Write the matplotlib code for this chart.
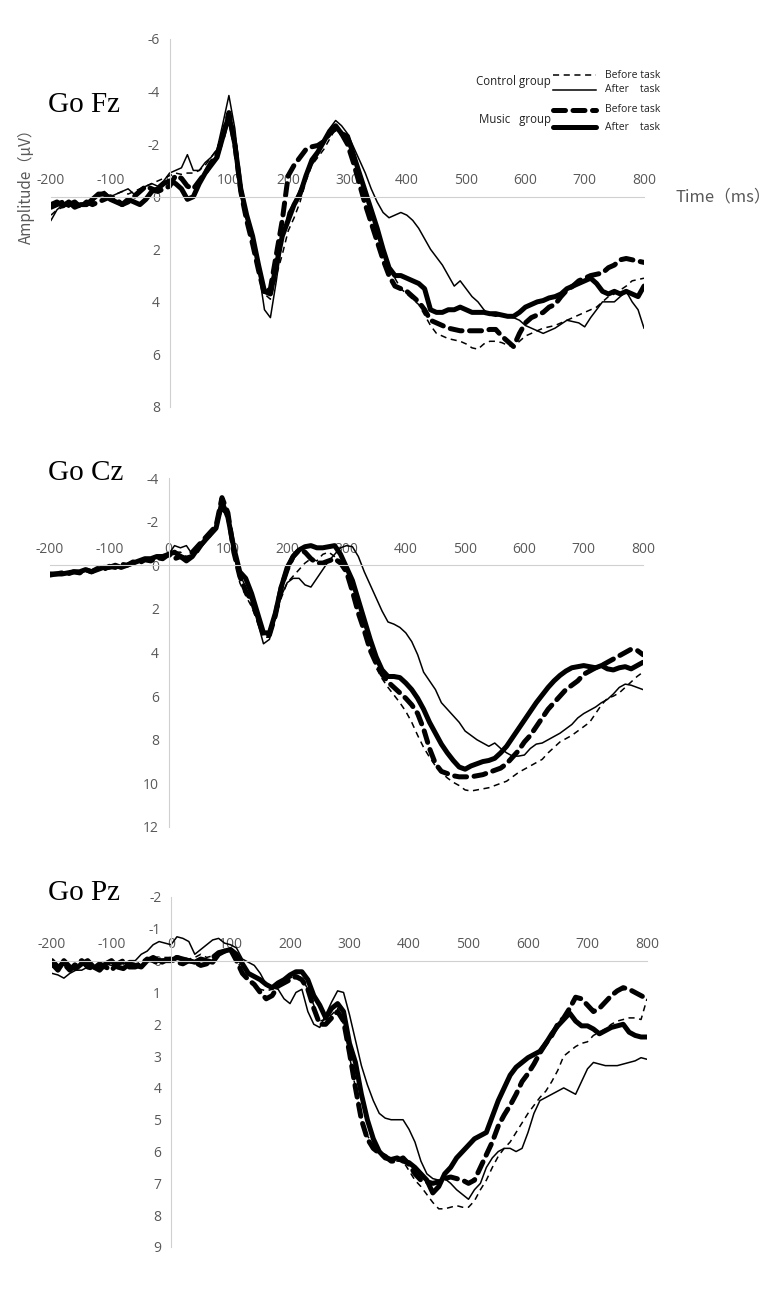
import numpy as np
import matplotlib
matplotlib.use("Agg")
import matplotlib.pyplot as plt
from matplotlib.lines import Line2D

W, H = 780, 1299

# time axis (ms)
time_ms = np.arange(-200, 801, 10)
x_ticks = [-200, -100, 0, 100, 200, 300, 400, 500, 600, 700, 800]

# ---- Go Fz ----
fz_ctrl_before = [0.7, 0.5, 0.4, 0.3, 0.4, 0.3, 0.2, 0.2, 0.0, -0.1,
                  0.0, -0.1, -0.2, -0.1, -0.2, -0.3, -0.4, -0.5, -0.6, -0.7,
                  -0.8, -0.9, -0.85, -0.9, -0.9, -1.0, -1.2, -1.5, -1.8, -2.5,
                  -3.2, -2.1, -0.3, 0.9, 1.6, 2.6, 3.7, 3.9, 3.0, 2.2,
                  1.3, 0.8, 0.2, -0.6, -1.2, -1.5, -1.8, -2.2, -2.6, -2.5,
                  -2.1, -1.5, -0.9, -0.2, 0.6, 1.3, 2.0, 2.6, 3.1, 3.5,
                  3.7, 3.9, 4.1, 4.5, 4.9, 5.2, 5.3, 5.4, 5.45, 5.5,
                  5.6, 5.75, 5.8, 5.6, 5.5, 5.5, 5.55, 5.65, 5.7, 5.5,
                  5.3, 5.2, 5.1, 5.0, 4.95, 4.9, 4.8, 4.7, 4.6, 4.5,
                  4.4, 4.3, 4.2, 4.0, 3.8, 3.7, 3.55, 3.4, 3.2, 3.15,
                  3.1]
fz_ctrl_after = [0.9, 0.5, 0.3, 0.4, 0.2, 0.3, 0.2, 0.1, -0.1, -0.2,
                 0.0, -0.1, -0.2, -0.3, -0.1, -0.3, -0.4, -0.5, -0.4, -0.6,
                 -0.9, -1.0, -1.1, -1.6, -1.0, -1.0, -1.3, -1.5, -1.8, -2.8,
                 -3.85, -2.6, -0.5, 0.6, 1.6, 2.8, 4.3, 4.6, 3.2, 1.6,
                 0.6, 0.2, -0.3, -0.8, -1.2, -1.6, -2.1, -2.6, -2.9, -2.7,
                 -2.4, -1.9, -1.4, -0.9, -0.3, 0.2, 0.6, 0.8, 0.7, 0.6,
                 0.7, 0.9, 1.2, 1.6, 2.0, 2.3, 2.6, 3.0, 3.4, 3.2,
                 3.5, 3.8, 4.0, 4.3, 4.5, 4.55, 4.5, 4.55, 4.6, 4.7,
                 4.9, 5.0, 5.1, 5.2, 5.1, 5.0, 4.85, 4.7, 4.75, 4.8,
                 4.95, 4.6, 4.3, 4.0, 4.0, 4.0, 3.8, 3.6, 4.0, 4.3,
                 5.0]
fz_music_before = [0.4, 0.3, 0.2, 0.3, 0.2, 0.4, 0.2, 0.3, 0.2, 0.1,
                   0.0, 0.1, 0.3, 0.2, 0.0, -0.2, -0.4, -0.3, -0.2, -0.3,
                   -0.4, -0.8, -0.7, -0.4, -0.3, -0.6, -0.9, -1.3, -1.6, -2.3,
                   -3.2, -2.0, -0.2, 0.9, 1.8, 2.8, 3.7, 3.5, 2.2, 0.9,
                   -0.8, -1.2, -1.5, -1.8, -1.9, -1.95, -2.1, -2.4, -2.6, -2.4,
                   -2.0, -1.3, -0.5, 0.3, 1.0, 1.7, 2.4, 3.0, 3.4, 3.5,
                   3.6, 3.8, 4.0, 4.3, 4.7, 4.8, 4.9, 5.0, 5.05, 5.1,
                   5.1, 5.1, 5.1, 5.1, 5.05, 5.05, 5.3, 5.5, 5.7, 5.2,
                   4.8, 4.6, 4.5, 4.4, 4.2, 4.1, 3.8, 3.55, 3.4, 3.2,
                   3.1, 3.0, 2.95, 2.9, 2.7, 2.6, 2.4, 2.35, 2.4, 2.45,
                   2.5]
fz_music_after = [0.3, 0.2, 0.35, 0.2, 0.4, 0.3, 0.3, 0.1, -0.1, -0.1,
                  0.1, 0.2, 0.3, 0.1, 0.2, 0.3, 0.1, -0.2, -0.3, -0.5,
                  -0.6, -0.5, -0.3, 0.1, 0.0, -0.5, -0.9, -1.2, -1.5, -2.3,
                  -3.1, -2.0, -0.3, 0.7, 1.5, 2.6, 3.6, 3.7, 2.6, 1.5,
                  0.9, 0.3, -0.1, -0.8, -1.4, -1.7, -2.1, -2.5, -2.7, -2.4,
                  -2.3, -1.6, -0.9, -0.2, 0.5, 1.2, 2.0, 2.7, 3.0, 3.0,
                  3.1, 3.2, 3.3, 3.5, 4.3, 4.4, 4.4, 4.3, 4.3, 4.2,
                  4.3, 4.4, 4.4, 4.4, 4.45, 4.45, 4.5, 4.55, 4.55, 4.4,
                  4.2, 4.1, 4.0, 3.95, 3.85, 3.8, 3.7, 3.5, 3.4, 3.3,
                  3.2, 3.1, 3.3, 3.6, 3.7, 3.6, 3.7, 3.6, 3.7, 3.8,
                  3.4]

# ---- Go Cz ----
cz_ctrl_before = [0.4, 0.4, 0.35, 0.35, 0.3, 0.3, 0.25, 0.2, 0.2, 0.15,
                  0.1, 0.05, 0.0, 0.0, -0.1, -0.15, -0.2, -0.3, -0.35, -0.4,
                  -0.5, -0.6, -0.6, -0.4, -0.5, -0.7, -1.0, -1.3, -1.7, -2.6,
                  -2.2, -0.6, 0.8, 1.4, 1.9, 2.6, 3.3, 3.3, 2.4, 1.5,
                  0.8, 0.5, 0.2, -0.1, -0.3, -0.2, -0.5, -0.6, -0.4, -0.2,
                  0.0, 0.6, 1.6, 2.6, 3.7, 4.7, 5.2, 5.6, 5.95, 6.3,
                  6.7, 7.2, 7.8, 8.35, 8.8, 9.2, 9.5, 9.75, 9.95, 10.1,
                  10.3, 10.35, 10.3, 10.25, 10.2, 10.1, 10.0, 9.9, 9.7, 9.5,
                  9.35, 9.2, 9.05, 8.9, 8.6, 8.35, 8.1, 7.95, 7.8, 7.6,
                  7.4, 7.2, 6.8, 6.4, 6.1, 6.0, 5.85, 5.6, 5.35, 5.1,
                  4.9]
cz_ctrl_after = [0.4, 0.35, 0.4, 0.3, 0.3, 0.25, 0.2, 0.25, 0.15, 0.1,
                 0.1, 0.0, 0.05, -0.05, -0.1, -0.2, -0.25, -0.3, -0.4, -0.45,
                 -0.5, -0.9, -0.8, -0.9, -0.5, -0.6, -1.0, -1.4, -1.8, -2.5,
                 -2.3, -0.8, 0.4, 1.0, 1.7, 2.6, 3.6, 3.4, 2.4, 1.4,
                 0.8, 0.6, 0.6, 0.9, 1.0, 0.6, 0.2, -0.2, -0.5, -0.8,
                 -0.9, -0.85, -0.4, 0.3, 0.9, 1.5, 2.1, 2.6, 2.7, 2.85,
                 3.1, 3.5, 4.1, 4.9, 5.3, 5.7, 6.3, 6.6, 6.9, 7.2,
                 7.6, 7.8, 8.0, 8.15, 8.3, 8.15, 8.4, 8.6, 8.75, 8.75,
                 8.7, 8.4, 8.2, 8.15, 8.0, 7.85, 7.7, 7.5, 7.3, 7.0,
                 6.8, 6.65, 6.5, 6.3, 6.15, 5.9, 5.6, 5.45, 5.5, 5.6,
                 5.7]
cz_music_before = [0.45, 0.4, 0.35, 0.4, 0.3, 0.35, 0.2, 0.3, 0.15, 0.2,
                   0.05, 0.1, -0.05, 0.0, -0.15, -0.1, -0.25, -0.2, -0.35, -0.3,
                   -0.5, -0.3, -0.4, -0.3, -0.6, -0.9, -1.2, -1.5, -1.8, -3.1,
                   -2.4, -0.6, 0.5, 1.2, 1.6, 2.4, 3.2, 3.2, 2.3, 1.0,
                   0.2, -0.4, -0.7, -0.6, -0.3, -0.1, -0.1, -0.2, -0.3, -0.1,
                   0.3, 1.2, 2.2, 3.0, 3.9, 4.5, 5.0, 5.35, 5.6, 5.85,
                   6.1, 6.4, 6.8, 7.5, 8.4, 9.1, 9.45, 9.55, 9.65, 9.7,
                   9.7, 9.7, 9.65, 9.6, 9.5, 9.4, 9.3, 9.1, 8.8, 8.5,
                   8.1, 7.8, 7.4, 7.0, 6.6, 6.3, 6.0, 5.7, 5.5, 5.3,
                   5.0, 4.85, 4.7, 4.6, 4.45, 4.3, 4.15, 4.0, 3.85, 3.9,
                   4.1]
cz_music_after = [0.4, 0.4, 0.4, 0.35, 0.3, 0.3, 0.2, 0.3, 0.2, 0.1,
                  0.1, 0.0, 0.1, 0.0, -0.1, -0.2, -0.3, -0.3, -0.4, -0.4,
                  -0.5, -0.6, -0.4, -0.2, -0.4, -0.8, -1.1, -1.4, -1.7, -2.9,
                  -2.2, -0.8, 0.3, 0.6, 1.3, 2.2, 3.1, 3.1, 2.2, 1.0,
                  0.1, -0.4, -0.7, -0.85, -0.9, -0.8, -0.8, -0.85, -0.9, -0.5,
                  0.1, 0.7, 1.6, 2.5, 3.4, 4.2, 4.8, 5.1, 5.1, 5.15,
                  5.4, 5.7, 6.1, 6.6, 7.2, 7.7, 8.2, 8.6, 8.95, 9.25,
                  9.35, 9.2, 9.1, 9.0, 8.95, 8.85, 8.6, 8.3, 7.9, 7.5,
                  7.1, 6.7, 6.3, 5.95, 5.6, 5.3, 5.05, 4.85, 4.7, 4.65,
                  4.6, 4.65, 4.7, 4.6, 4.75, 4.8, 4.7, 4.65, 4.75, 4.6,
                  4.45]

# ---- Go Pz ----
pz_ctrl_before = [0.2, 0.1, 0.15, 0.2, 0.1, 0.15, 0.1, 0.15, 0.2, 0.1,
                  0.1, 0.15, 0.1, 0.05, 0.1, 0.05, 0.0, 0.0, -0.05, -0.1,
                  -0.1, -0.15, -0.1, -0.05, -0.1, -0.2, -0.1, -0.15, -0.2, -0.3,
                  -0.3, -0.1, 0.4, 0.6, 0.8, 0.9, 0.95, 0.9, 0.8, 0.7,
                  0.55, 0.45, 0.55, 0.9, 1.4, 1.9, 1.85, 1.7, 1.5, 2.0,
                  3.0, 4.0, 4.9, 5.5, 5.8, 6.0, 6.15, 6.25, 6.3, 6.3,
                  6.6, 6.9, 7.1, 7.35, 7.6, 7.8, 7.8, 7.75, 7.7, 7.75,
                  7.75, 7.55, 7.2, 6.9, 6.5, 6.15, 5.9, 5.7, 5.4, 5.1,
                  4.8, 4.55, 4.3, 4.1, 3.8, 3.45, 3.0, 2.85, 2.7, 2.6,
                  2.55, 2.35, 2.25, 2.15, 2.0, 1.9, 1.85, 1.8, 1.8, 1.85,
                  1.2]
pz_ctrl_after = [0.4, 0.45, 0.55, 0.4, 0.3, 0.3, 0.2, 0.25, 0.2, 0.1,
                 0.15, 0.1, 0.1, 0.0, 0.0, -0.2, -0.3, -0.5, -0.6, -0.55,
                 -0.5, -0.75, -0.7, -0.6, -0.2, -0.35, -0.5, -0.65, -0.7, -0.55,
                 -0.5, -0.4, -0.05, 0.05, 0.15, 0.4, 0.75, 0.85, 0.9, 1.2,
                 1.35, 1.0, 0.9, 1.6, 2.0, 2.1, 1.7, 1.3, 0.95, 1.0,
                 1.7, 2.5, 3.3, 3.9, 4.4, 4.8, 4.95, 5.0, 5.0, 5.0,
                 5.3, 5.7, 6.3, 6.7, 6.85, 6.9, 6.85, 7.0, 7.2, 7.35,
                 7.5, 7.2, 7.0, 6.5, 6.2, 6.0, 5.9, 5.9, 6.0, 5.9,
                 5.4, 4.8, 4.4, 4.3, 4.2, 4.1, 4.0, 4.1, 4.2, 3.8,
                 3.4, 3.2, 3.25, 3.3, 3.3, 3.3, 3.25, 3.2, 3.15, 3.05,
                 3.1]
pz_music_before = [0.0, 0.2, 0.1, 0.3, 0.1, 0.0, 0.2, 0.25, 0.1, 0.2,
                   0.3, 0.1, 0.0, 0.2, 0.2, 0.1, -0.05, 0.0, 0.1, 0.0,
                   -0.05, 0.05, 0.1, 0.0, 0.05, 0.15, 0.1, -0.1, -0.25, -0.3,
                   -0.35, 0.0, 0.4, 0.6, 0.75, 1.0, 1.2, 1.1, 0.8, 0.7,
                   0.6, 0.5, 0.6, 0.9, 1.5, 2.0, 2.0, 1.8, 1.6, 1.9,
                   2.9, 4.0, 5.0, 5.6, 5.9, 6.05, 6.15, 6.3, 6.3, 6.2,
                   6.4, 6.7, 6.9, 6.95, 7.0, 6.95, 6.85, 6.8, 6.85, 6.9,
                   7.0, 6.9, 6.5, 6.1, 5.7, 5.2, 4.85, 4.55, 4.2, 3.8,
                   3.55, 3.25, 2.9, 2.6, 2.35, 2.0, 1.8, 1.5, 1.15, 1.2,
                   1.4, 1.6, 1.5, 1.3, 1.1, 0.95, 0.85, 0.9, 1.0, 1.1,
                   1.2]
pz_music_after = [0.1, 0.3, 0.0, 0.2, 0.25, 0.1, 0.0, 0.2, 0.3, 0.1,
                  0.0, 0.2, 0.25, 0.1, 0.15, 0.2, 0.0, -0.1, 0.0, 0.0,
                  0.0, -0.1, -0.05, 0.0, 0.05, -0.05, 0.0, 0.05, -0.2, -0.3,
                  -0.35, -0.2, 0.1, 0.4, 0.5, 0.6, 0.75, 0.85, 0.7, 0.6,
                  0.45, 0.35, 0.35, 0.6, 1.1, 1.4, 1.8, 1.5, 1.35, 1.6,
                  2.6, 3.2, 4.2, 5.0, 5.6, 6.0, 6.2, 6.25, 6.2, 6.3,
                  6.35, 6.5, 6.7, 6.9, 7.3, 7.1, 6.7, 6.5, 6.2, 6.0,
                  5.8, 5.6, 5.5, 5.4, 4.9, 4.4, 4.0, 3.6, 3.35, 3.2,
                  3.05, 2.95, 2.85, 2.6, 2.3, 2.05, 1.85, 1.65, 1.9, 2.05,
                  2.05, 2.15, 2.3, 2.2, 2.1, 2.05, 2.0, 2.25, 2.35, 2.4,
                  2.4]

fz_yticks = [-6, -4, -2, 0, 2, 4, 6, 8]
cz_yticks = [-4, -2, 0, 2, 4, 6, 8, 10, 12]
pz_yticks = [-2, -1, 0, 1, 2, 3, 4, 5, 6, 7, 8, 9]

series_names = ["Control before", "Control after", "Music before", "Music after"]

axis_gray = "#d0d0d0"
label_gray = "#595959"

styles = [
    dict(lw=1.1, ls=(0, (4, 3)), color="black"),
    dict(lw=1.1, ls="-", color="black"),
    dict(lw=3.6, ls=(0, (2.4, 1.5)), color="black", dash_capstyle="round"),
    dict(lw=3.6, ls="-", color="black", solid_capstyle="round"),
]


def fx(px):
    return px / W


def fy(py):
    return 1 - py / H


def setup(ax, yticks):
    ax.set_xlim(-200, 800)
    ax.set_ylim(yticks[-1], yticks[0])
    ax.spines["right"].set_visible(False)
    ax.spines["bottom"].set_visible(False)
    ax.spines["left"].set_position(("data", 0))
    ax.spines["top"].set_position(("data", 0))
    ax.spines["left"].set_color(axis_gray)
    ax.spines["top"].set_color(axis_gray)
    ax.xaxis.tick_top()
    ax.set_xticks(x_ticks)
    ax.set_xticklabels([str(v) for v in x_ticks])
    ax.set_yticks(yticks)
    ax.set_yticklabels([str(v) for v in yticks])
    ax.tick_params(length=0, colors=label_gray, labelsize=10)
    ax.tick_params(axis="x", pad=6)
    ax.tick_params(axis="y", pad=7)
    for lab in ax.get_xticklabels() + ax.get_yticklabels():
        lab.set_family("Open Sans")
    ax.patch.set_alpha(0)


fig = plt.figure(figsize=(W / 100, H / 100), dpi=100)

panels = [
    ("Go Fz", [fz_ctrl_before, fz_ctrl_after, fz_music_before, fz_music_after],
     fz_yticks, (51, 644, 39, 407), 112),
    ("Go Cz", [cz_ctrl_before, cz_ctrl_after, cz_music_before, cz_music_after],
     cz_yticks, (50, 643, 478, 827), 480),
    ("Go Pz", [pz_ctrl_before, pz_ctrl_after, pz_music_before, pz_music_after],
     pz_yticks, (52, 647, 897, 1247), 900),
]

for title, data, yticks, (x0, x1, y0, y1), title_y in panels:
    ax = fig.add_axes([fx(x0), fy(y1), (x1 - x0) / W, (y1 - y0) / H])
    setup(ax, yticks)
    for vals, st, name in zip(data, styles, series_names):
        assert len(vals) == len(time_ms), (title, name, len(vals))
        ax.plot(time_ms, vals, label=name, **st)
    fig.text(fx(48), fy(title_y), title, family="Liberation Serif",
             fontsize=21, va="baseline", ha="left")

# axis titles (first panel)
fig.text(fx(26), fy(182), "Amplitude（µV）", rotation=90, ha="center", va="center",
         fontsize=11, color=label_gray, family=["Noto Sans CJK SC", "DejaVu Sans"])
fig.text(fx(676), fy(197), "Time（ms）", ha="left", va="center",
         fontsize=12, color=label_gray, family=["Noto Sans CJK SC", "DejaVu Sans"])

# legend in the Fz panel
leg_rows = [(75, 0, "Before task"), (90, 1, "After    task"),
            (110, 2, "Before task"), (127, 3, "After    task")]
for y, i, txt in leg_rows:
    fig.add_artist(Line2D([fx(553), fx(596)], [fy(y), fy(y)], **styles[i]))
    fig.text(fx(605), fy(y), txt, fontsize=7.5, va="center", ha="left",
             family="Open Sans", color="#222222")
fig.text(fx(551), fy(82), "Control group", fontsize=8.3, va="center", ha="right",
         family="Open Sans", color="#222222")
fig.text(fx(551), fy(119), "Music   group", fontsize=8.3, va="center", ha="right",
         family="Open Sans", color="#222222")

fig.savefig("out.png", dpi=100)
